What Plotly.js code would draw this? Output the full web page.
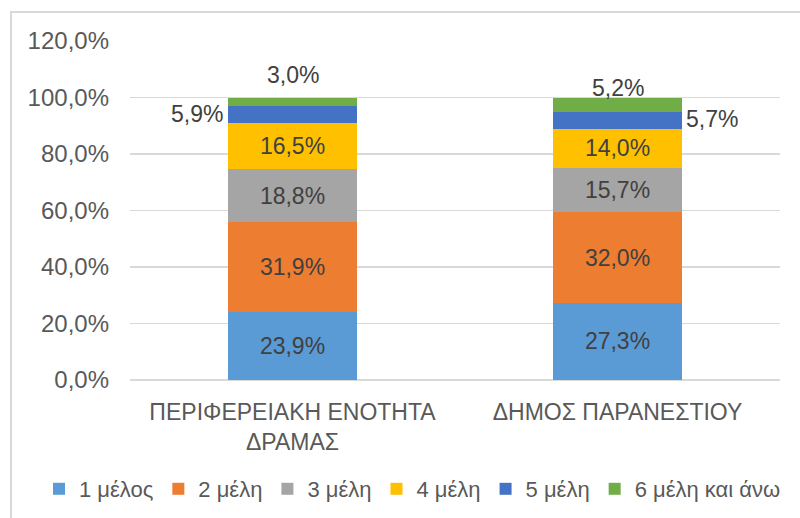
<!DOCTYPE html>
<html>
<head>
<meta charset="utf-8">
<script src="https://cdn.plot.ly/plotly-3.0.1.min.js"></script>
<style>
  html, body { margin: 0; padding: 0; background: #ffffff; }
  #wrap { position: relative; width: 800px; height: 518px; overflow: hidden; }
  #frame { position: absolute; left: 10px; top: 11px; width: 800px; height: 520px; border: 2px solid #d9d9d9; box-sizing: border-box; }
  #chart { position: absolute; left: 0; top: 0; width: 800px; height: 518px; }
</style>
</head>
<body>
<div id="wrap">
  <div id="frame"></div>
  <div id="chart"></div>
</div>
<script>
const categories = ["ΠΕΡΙΦΕΡΕΙΑΚΗ ΕΝΟΤΗΤΑ<br>ΔΡΑΜΑΣ", "ΔΗΜΟΣ ΠΑΡΑΝΕΣΤΙΟΥ"];
const seriesNames = ["1 μέλος", "2 μέλη", "3 μέλη", "4 μέλη", "5 μέλη", "6 μέλη και άνω"];
const s1 = [23.9, 27.3];
const s2 = [31.9, 32.0];
const s3 = [18.8, 15.7];
const s4 = [16.5, 14.0];
const s5 = [5.9, 5.7];
const s6 = [3.0, 5.2];
const colors = ["#5B9BD5", "#ED7D31", "#A5A5A5", "#FFC000", "#4472C4", "#70AD47"];

const series = [s1, s2, s3, s4, s5, s6];
const fmt = v => v.toFixed(1).replace('.', ',') + '%';
const FONT = 'Liberation Sans, Arial, sans-serif';

const traces = series.map((vals, i) => ({
  type: 'bar',
  name: seriesNames[i],
  x: categories,
  y: vals,
  marker: { color: colors[i], line: { width: 0 } },
  text: i < 4 ? vals.map(fmt) : vals.map(() => ''),
  textposition: i < 4 ? 'inside' : 'none',
  insidetextanchor: 'middle',
  textangle: 0,
  constraintext: 'none',
  textfont: { family: FONT, size: 23, color: '#404040' },
  hoverinfo: 'none'
}));

// cumulative positions for outside labels
const cum4 = categories.map((c, k) => series.slice(0, 4).reduce((a, s) => a + s[k], 0));
const cumAll = categories.map((c, k) => series.reduce((a, s) => a + s[k], 0));
const lblFont = { family: FONT, size: 23, color: '#404040' };
const annotations = [
  { x: categories[0], y: cum4[0] + s5[0] / 2, text: fmt(s5[0]), xanchor: 'right', yanchor: 'middle', xshift: -68, yshift: 0, showarrow: false, font: lblFont },
  { x: categories[0], y: cumAll[0], text: fmt(s6[0]), xanchor: 'center', yanchor: 'middle', yshift: 23, showarrow: false, font: lblFont },
  { x: categories[1], y: cum4[1] + s5[1] / 2, text: fmt(s5[1]), xanchor: 'left', yanchor: 'middle', xshift: 66, yshift: 2, showarrow: false, font: lblFont },
  { x: categories[1], y: cumAll[1], text: fmt(s6[1]), xanchor: 'center', yanchor: 'middle', yshift: 10, showarrow: false, font: lblFont }
];

const layout = {
  width: 800, height: 518,
  margin: { l: 130, r: 20, t: 41, b: 138, autoexpand: false },
  paper_bgcolor: 'rgba(0,0,0,0)',
  plot_bgcolor: 'rgba(0,0,0,0)',
  barmode: 'stack',
  bargap: 0.603,
  separators: ',.',
  showlegend: true,
  font: { family: FONT, color: '#595959' },
  xaxis: {
    type: 'category',
    tickfont: { size: 23, color: '#595959' },
    showgrid: false,
    showline: false,
    ticks: '',
    ticklabelstandoff: 16,
    automargin: false,
    fixedrange: true
  },
  yaxis: {
    range: [0, 120],
    dtick: 20,
    tick0: 0,
    tickformat: '.1f',
    ticksuffix: '%',
    tickfont: { size: 24, color: '#595959' },
    showgrid: true,
    gridcolor: '#d9d9d9',
    gridwidth: 1.5,
    zeroline: true,
    zerolinecolor: '#d9d9d9',
    zerolinewidth: 1.5,
    showline: false,
    ticks: '',
    ticklabelstandoff: 20,
    automargin: false,
    fixedrange: true
  },
  legend: {
    orientation: 'h',
    x: -0.14, xanchor: 'left',
    y: -0.3215, yanchor: 'middle',
    font: { size: 22, color: '#595959' },
    traceorder: 'normal',
    itemwidth: 30,
    bgcolor: 'rgba(0,0,0,0)'
  },
  annotations: annotations
};

Plotly.newPlot('chart', traces, layout, { displayModeBar: false, staticPlot: true });
</script>
</body>
</html>
